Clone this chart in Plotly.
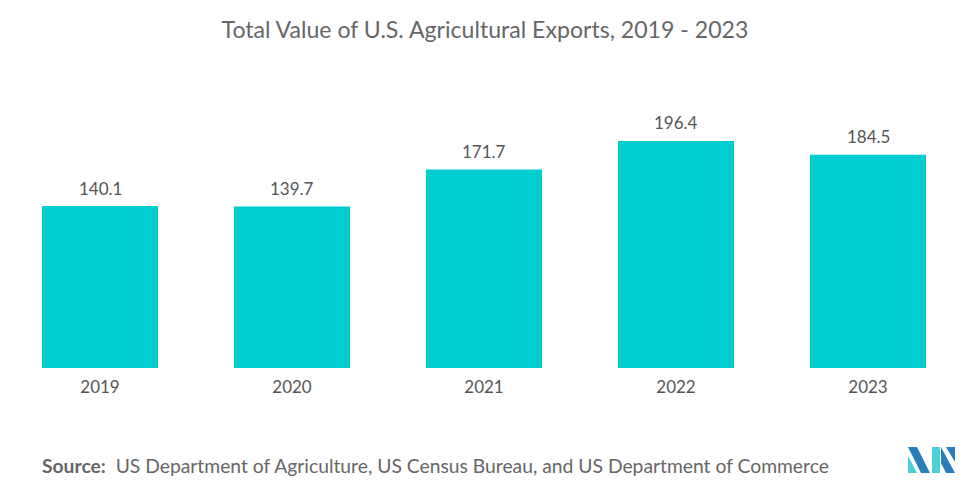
import plotly.graph_objects as go

years = ["2019", "2020", "2021", "2022", "2023"]
values = [140.1, 139.7, 171.7, 196.4, 184.5]
value_labels = ["140.1", "139.7", "171.7", "196.4", "184.5"]

# page body has an 8px default margin; figure sized to fit in the window
OFF = 8
W, H = 964, 477
L, R, T, B = 0, 0, 92, 117
PW, PH = W - L - R, H - T - B
CAT_PX = 192.0          # pixel width of one category
FIRST_CENTER = 100 - OFF - L  # first bar centre within plot area

def px_x(sx):
    return (sx - OFF - L) / PW

def px_y(sy):
    return (H - B - (sy - OFF)) / PH

FONT = "Lato"
GREY = "#555555"

fig = go.Figure(
    go.Bar(
        x=years,
        y=values,
        marker=dict(color="#00CED1", line=dict(width=0)),
        hoverinfo="skip",
    )
)

# value labels above bars (category index positions on the category axis)
for i, (v, lab) in enumerate(zip(values, value_labels)):
    fig.add_annotation(
        x=i, y=v, text=lab, showarrow=False,
        xanchor="center", yanchor="middle", yshift=18,
        font=dict(family=FONT, size=17, color=GREY),
    )

x0 = -FIRST_CENTER / CAT_PX
fig.update_layout(
    width=W,
    height=H,
    margin=dict(l=L, r=R, t=T, b=B, autoexpand=False),
    paper_bgcolor="white",
    plot_bgcolor="white",
    bargap=0.396,
    showlegend=False,
    title=dict(
        text="Total Value of U.S. Agricultural Exports, 2019 - 2023",
        x=(485 - OFF) / W,
        xanchor="center",
        y=1 - (30 - OFF) / H,
        yanchor="middle",
        font=dict(family=FONT, size=23.1, color="#666666"),
    ),
    xaxis=dict(
        type="category",
        range=[x0, x0 + PW / CAT_PX],
        showgrid=False,
        zeroline=False,
        showline=False,
        ticks="",
        ticklabelstandoff=7,
        tickfont=dict(family=FONT, size=17, color=GREY),
    ),
    yaxis=dict(
        range=[0, PH / 1.156],
        visible=False,
        showgrid=False,
        zeroline=False,
    ),
)

fig.add_annotation(
    xref="paper", yref="paper",
    x=px_x(40), y=px_y(465),
    xanchor="left", yanchor="middle",
    showarrow=False,
    text="<b>Source:</b>  US Department of Agriculture, US Census Bureau, and US Department of Commerce",
    font=dict(family=FONT, size=19.3, color="#666666"),
)

# logo
def poly(points, color):
    d = "M " + " L ".join(f"{px_x(a)},{px_y(b)}" for a, b in points) + " Z"
    fig.add_shape(type="path", xref="paper", yref="paper", path=d,
                  fillcolor=color, line=dict(width=0))

DARK = "#2B7DB8"
LIGHT = "#4CCFD6"
poly([(908, 447), (917, 447), (930, 473), (921, 473)], DARK)
poly([(908, 456), (917, 473), (908, 473)], LIGHT)
poly([(932, 447), (940, 447), (940, 473), (932, 473)], LIGHT)
poly([(941, 447), (955, 473), (946, 473), (941, 463)], DARK)
poly([(946, 447), (955, 447), (955, 462)], DARK)

fig.write_html("out.html")
